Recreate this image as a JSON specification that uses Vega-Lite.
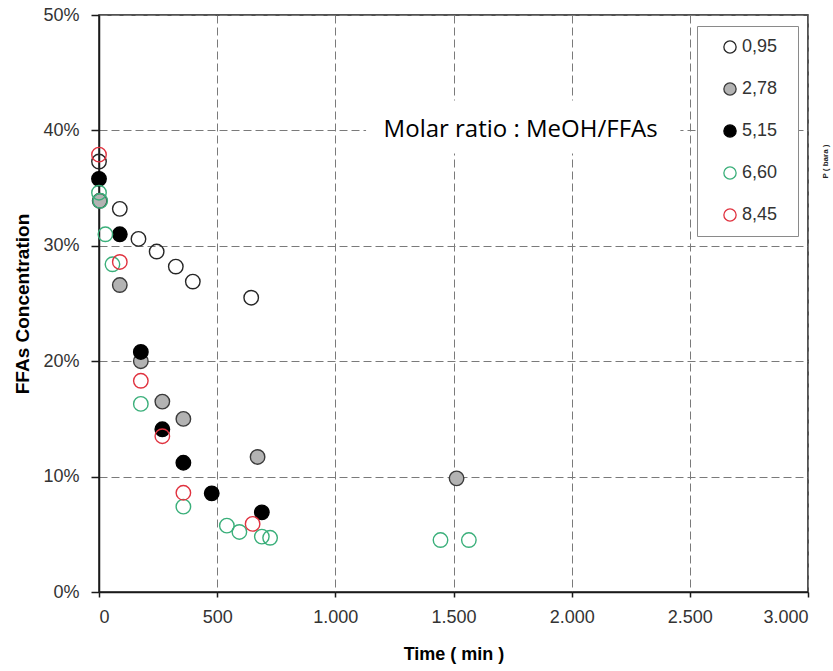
{
  "$schema": "https://vega.github.io/schema/vega-lite/v6.json",
  "width": 709,
  "height": 577,
  "autosize": {"type": "none"},
  "padding": {"left": 99, "top": 15, "right": 25, "bottom": 79},
  "background": "white",
  "config": {
    "view": {"stroke": "#1a1a1a", "strokeWidth": 1.5},
    "axis": {
      "labelFont": "Liberation Sans",
      "titleFont": "Liberation Sans",
      "labelFontSize": 18,
      "labelColor": "#333333",
      "titleColor": "#000000",
      "titleFontWeight": "bold",
      "domainColor": "#1a1a1a",
      "domainWidth": 1.5,
      "tickColor": "#1a1a1a",
      "tickWidth": 1.5,
      "gridColor": "#7a7a7a",
      "gridDash": [8, 4],
      "gridWidth": 1
    },
    "legend": {
      "orient": "none",
      "fillColor": "white",
      "strokeColor": "#8a8a8a",
      "padding": 12,
      "symbolOffset": 12,
      "symbolSize": 150,
      "symbolStrokeWidth": 1.3,
      "labelFont": "Liberation Sans",
      "labelFontSize": 18,
      "labelColor": "#333333",
      "labelOffset": 3,
      "rowPadding": 24,
      "titleOrient": "right",
      "titleOpacity": 0,
      "titleFontSize": 8,
      "titlePadding": 4
    }
  },
  "datasets": {
    "pts": [
      {"t": 0, "c": 0.373, "ratio": "0,95"},
      {"t": 88, "c": 0.332, "ratio": "0,95"},
      {"t": 167, "c": 0.306, "ratio": "0,95"},
      {"t": 244, "c": 0.295, "ratio": "0,95"},
      {"t": 325, "c": 0.282, "ratio": "0,95"},
      {"t": 397, "c": 0.269, "ratio": "0,95"},
      {"t": 644, "c": 0.255, "ratio": "0,95"},
      {"t": 3, "c": 0.339, "ratio": "2,78"},
      {"t": 88, "c": 0.266, "ratio": "2,78"},
      {"t": 177, "c": 0.200, "ratio": "2,78"},
      {"t": 268, "c": 0.165, "ratio": "2,78"},
      {"t": 357, "c": 0.150, "ratio": "2,78"},
      {"t": 671, "c": 0.117, "ratio": "2,78"},
      {"t": 1513, "c": 0.0985, "ratio": "2,78"},
      {"t": 0, "c": 0.358, "ratio": "5,15"},
      {"t": 88, "c": 0.310, "ratio": "5,15"},
      {"t": 177, "c": 0.208, "ratio": "5,15"},
      {"t": 268, "c": 0.141, "ratio": "5,15"},
      {"t": 357, "c": 0.112, "ratio": "5,15"},
      {"t": 477, "c": 0.0855, "ratio": "5,15"},
      {"t": 689, "c": 0.069, "ratio": "5,15"},
      {"t": 0, "c": 0.346, "ratio": "6,60"},
      {"t": 5, "c": 0.339, "ratio": "6,60"},
      {"t": 27, "c": 0.310, "ratio": "6,60"},
      {"t": 57, "c": 0.284, "ratio": "6,60"},
      {"t": 177, "c": 0.163, "ratio": "6,60"},
      {"t": 357, "c": 0.074, "ratio": "6,60"},
      {"t": 541, "c": 0.0575, "ratio": "6,60"},
      {"t": 594, "c": 0.052, "ratio": "6,60"},
      {"t": 689, "c": 0.048, "ratio": "6,60"},
      {"t": 724, "c": 0.047, "ratio": "6,60"},
      {"t": 1445, "c": 0.045, "ratio": "6,60"},
      {"t": 1565, "c": 0.045, "ratio": "6,60"},
      {"t": 0, "c": 0.379, "ratio": "8,45"},
      {"t": 88, "c": 0.286, "ratio": "8,45"},
      {"t": 177, "c": 0.183, "ratio": "8,45"},
      {"t": 268, "c": 0.135, "ratio": "8,45"},
      {"t": 357, "c": 0.086, "ratio": "8,45"},
      {"t": 650, "c": 0.059, "ratio": "8,45"}
    ]
  },
  "layer": [
    {
      "data": {"values": [{}]},
      "mark": {"type": "rect", "fill": "white", "stroke": null},
      "encoding": {
        "x": {"datum": 1130, "type": "quantitative", "scale": {"domain": [0, 3000], "nice": false}, "title": "Time ( min )"},
        "x2": {"datum": 2460},
        "y": {"datum": 0.38, "type": "quantitative", "scale": {"domain": [0, 0.5], "nice": false}, "title": "FFAs Concentration"},
        "y2": {"datum": 0.426}
      }
    },
    {
      "data": {"name": "pts"},
      "mark": {"type": "point", "shape": "circle", "size": 210, "strokeWidth": 1.4, "opacity": 1, "filled": false},
      "encoding": {
        "x": {
          "field": "t",
          "type": "quantitative",
          "scale": {"domain": [0, 3000], "nice": false},
          "title": "Time ( min )",
          "axis": {
            "values": [0, 500, 1000, 1500, 2000, 2500, 3000],
            "labelExpr": "replace(format(datum.value, ','), ',', '.')",
            "tickSize": 5,
            "labelPadding": 11,
            "titlePadding": 19,
            "titleFontSize": 18,
            "grid": true
          }
        },
        "y": {
          "field": "c",
          "type": "quantitative",
          "scale": {"domain": [0, 0.5], "nice": false},
          "title": "FFAs Concentration",
          "axis": {
            "values": [0, 0.1, 0.2, 0.3, 0.4, 0.5],
            "format": ".0%",
            "tickSize": 8,
            "labelPadding": 12,
            "titlePadding": 10,
            "titleFontSize": 19,
            "grid": true
          }
        },
        "fill": {
          "field": "ratio",
          "type": "nominal",
          "scale": {
            "domain": ["0,95", "2,78", "5,15", "6,60", "8,45"],
            "range": ["transparent", "#b3b3b3", "#000000", "transparent", "transparent"]
          },
          "legend": {"title": "0", "legendX": 598, "legendY": 11}
        },
        "stroke": {
          "field": "ratio",
          "type": "nominal",
          "scale": {
            "domain": ["0,95", "2,78", "5,15", "6,60", "8,45"],
            "range": ["#262626", "#3a3a3a", "#000000", "#3aaf7a", "#e0323f"]
          },
          "legend": {"title": "0", "legendX": 598, "legendY": 11}
        }
      }
    },
    {
      "data": {"values": [{}]},
      "mark": {"type": "text", "font": "Open Sans", "fontSize": 24, "color": "#000000", "align": "center", "baseline": "middle"},
      "encoding": {
        "x": {"datum": 1784, "type": "quantitative"},
        "y": {"datum": 0.4, "type": "quantitative"},
        "text": {"value": "Molar ratio : MeOH/FFAs"}
      }
    },
    {
      "data": {"values": [{}]},
      "mark": {"type": "text", "font": "Liberation Sans", "fontSize": 8, "fontWeight": "bold", "angle": 270, "color": "#222222", "align": "center", "baseline": "middle"},
      "encoding": {
        "x": {"datum": 3078, "type": "quantitative"},
        "y": {"datum": 0.373, "type": "quantitative"},
        "text": {"value": "P ( bara )"}
      }
    }
  ]
}
